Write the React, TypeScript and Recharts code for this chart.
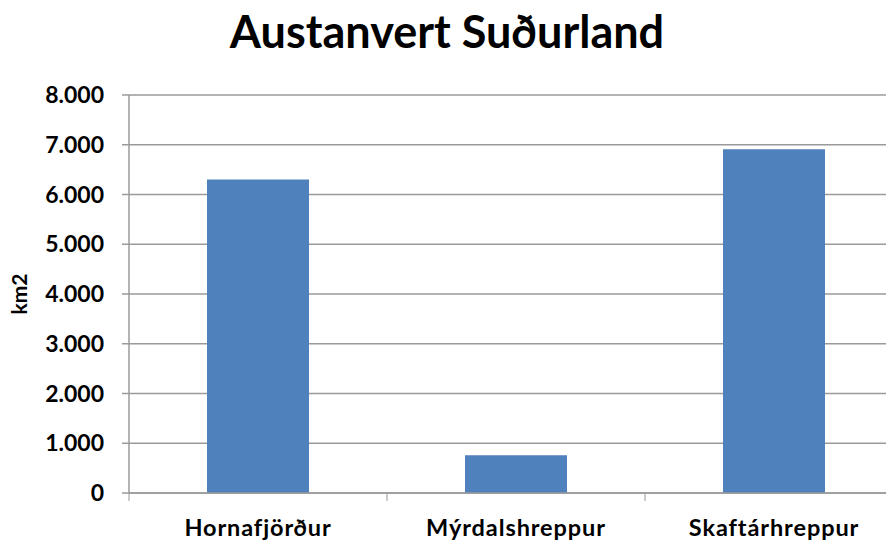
import React from 'react';
import { BarChart, Bar, XAxis, YAxis, CartesianGrid } from 'recharts';

const categories = ['Hornafjörður', 'Mýrdalshreppur', 'Skaftárhreppur'];
const areaKm2 = [6300, 760, 6910];
const yTicks = [0, 1000, 2000, 3000, 4000, 5000, 6000, 7000, 8000];

const data = categories.map((name, i) => ({ name, km2: areaKm2[i] }));

const FONT = 'Lato, "Open Sans", sans-serif';
const GRID = '#9a9a9a';

// Icelandic style thousands separator: 8000 -> "8.000"
const fmt = (v: number) => String(v).replace(/\B(?=(\d{3})+(?!\d))/g, '.');

// Excel puts the category tick marks between categories, not under them
const CategoryTick = (props: any) => {
    const { x, y, payload, index, width, visibleTicksCount } = props;
    const half = width / (visibleTicksCount || categories.length) / 2;
    const last = index === (visibleTicksCount || categories.length) - 1;
    return (
        <g>
            <line x1={x - half} x2={x - half} y1={y} y2={y + 8} stroke={GRID} strokeWidth={1} />
            {last && <line x1={x + half} x2={x + half} y1={y} y2={y + 8} stroke={GRID} strokeWidth={1} />}
            <text x={x} y={y + 43} textAnchor="middle" fill="#000" fontFamily={FONT} fontWeight={700} fontSize={23.5} letterSpacing={0.9}>
                {payload.value}
            </text>
        </g>
    );
};

const YLabel = () => (
    <text x={0} y={0} transform="translate(27 294) rotate(-90)" textAnchor="middle" fill="#000"
        fontFamily={FONT} fontWeight={700} fontSize={21}>
        km2
    </text>
);

export default function App() {
    return (
        <div style={{ position: 'relative', left: -8, top: -8, width: 894, height: 540, overflow: 'hidden', background: '#fff' }}>
            <div style={{ position: 'absolute', top: 4, left: 0, width: 894, textAlign: 'center', fontFamily: FONT, fontWeight: 700, fontSize: 45, color: '#000', lineHeight: 'normal', zIndex: 1 }}>
                Austanvert Suðurland
            </div>
            <BarChart width={910} height={540} data={data} margin={{ top: 95, right: 7, left: 0, bottom: 0 }}>
                <CartesianGrid vertical={false} stroke={GRID} strokeWidth={1.5} />
                <XAxis
                    dataKey="name"
                    axisLine={{ stroke: GRID, strokeWidth: 1.5 }}
                    tickLine={false}
                    tickSize={0}
                    tickMargin={0}
                    interval={0}
                    height={47}
                    tick={<CategoryTick />}
                />
                <YAxis
                    domain={[0, 8000]}
                    ticks={yTicks}
                    interval={0}
                    width={129}
                    tickFormatter={fmt}
                    axisLine={{ stroke: GRID, strokeWidth: 1.5 }}
                    tickLine={{ stroke: GRID, strokeWidth: 1.5 }}
                    tickSize={7}
                    tickMargin={18}
                    tick={{ fill: '#000', fontFamily: FONT, fontWeight: 700, fontSize: 23 }}
                    label={<YLabel />}
                />
                <Bar dataKey="km2" fill="#4F81BD" barSize={102} isAnimationActive={false} />
            </BarChart>
        </div>
    );
}
